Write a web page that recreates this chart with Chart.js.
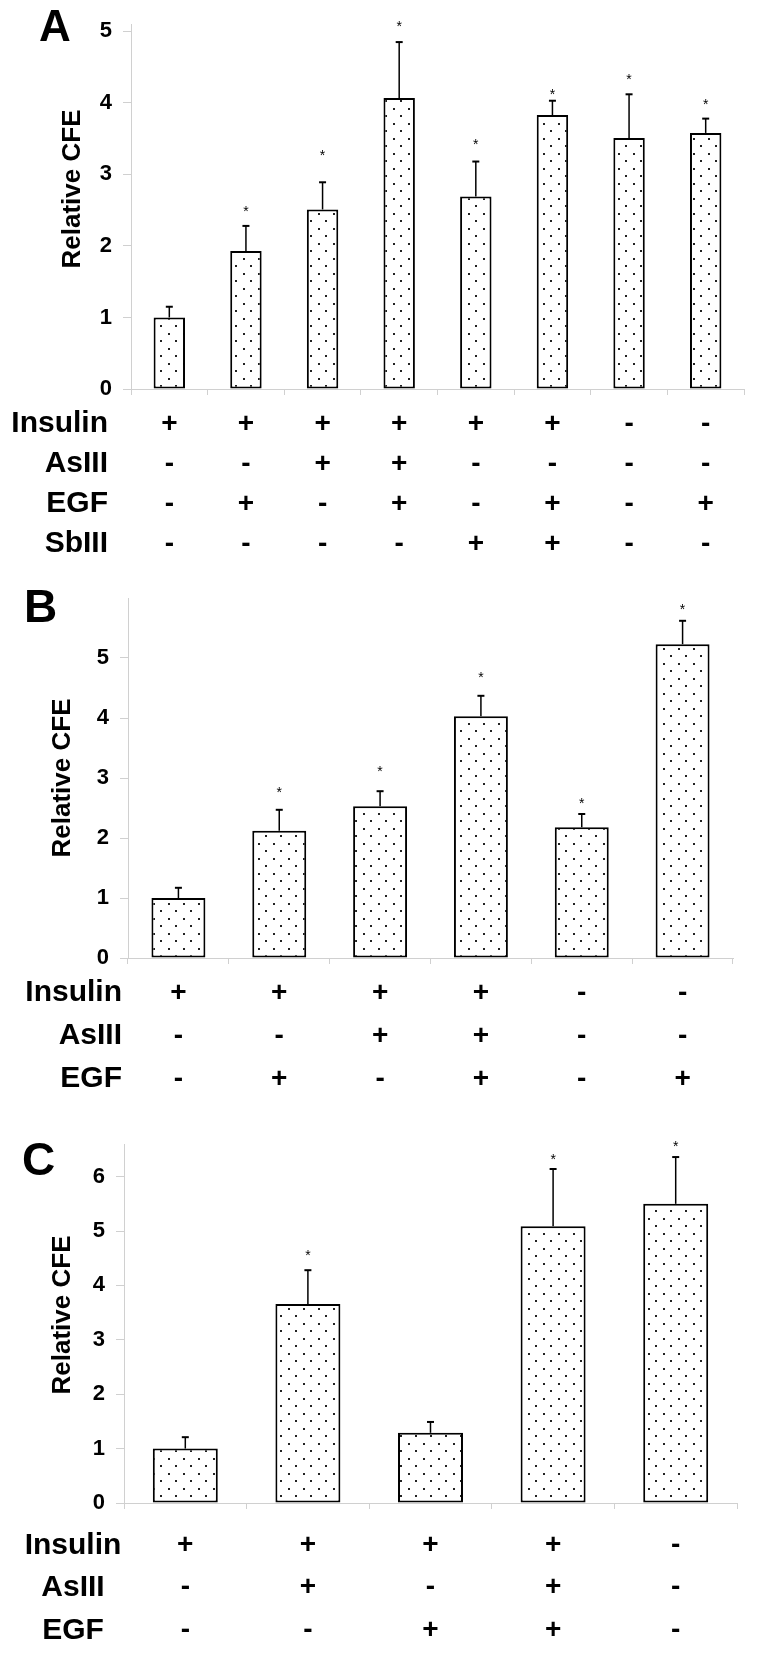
<!DOCTYPE html>
<html><head><meta charset="utf-8">
<script src="https://cdn.jsdelivr.net/npm/chart.js@4.4.1/dist/chart.umd.min.js"></script>
<style>
html,body{margin:0;padding:0;background:#fff;}
body{width:759px;height:1654px;position:relative;overflow:hidden;}
canvas{position:absolute;left:0;}
</style></head><body>
<canvas id="cA" width="759" height="570" style="top:0px"></canvas>
<canvas id="cB" width="759" height="540" style="top:570px"></canvas>
<canvas id="cC" width="759" height="544" style="top:1110px"></canvas>
<script>
// ---------- Panel A ----------
const rowNamesA = ['Insulin', 'AsIII', 'EGF', 'SbIII'];
const insulinA = ['+', '+', '+', '+', '+', '+', '-', '-'];
const asIIIA   = ['-', '-', '+', '+', '-', '-', '-', '-'];
const egfA     = ['-', '+', '-', '+', '-', '+', '-', '+'];
const sbIIIA   = ['-', '-', '-', '-', '+', '+', '-', '-'];
const valuesA  = [1.00, 1.93, 2.51, 4.07, 2.69, 3.83, 3.51, 3.58];
const errorsA  = [0.15, 0.35, 0.38, 0.78, 0.49, 0.20, 0.61, 0.20];
const starsA   = [null, 2.53, 3.31, 5.11, 3.47, 4.17, 4.38, 4.03];
const yTicksA  = [0, 1, 2, 3, 4, 5];

// ---------- Panel B ----------
const rowNamesB = ['Insulin', 'AsIII', 'EGF'];
const insulinB = ['+', '+', '+', '+', '-', '-'];
const asIIIB   = ['-', '-', '+', '+', '-', '-'];
const egfB     = ['-', '+', '-', '+', '-', '+'];
const valuesB  = [1.00, 2.12, 2.53, 4.03, 2.18, 5.23];
const errorsB  = [0.17, 0.35, 0.25, 0.34, 0.22, 0.39];
const starsB   = [null, 2.82, 3.17, 4.73, 2.63, 5.87];
const yTicksB  = [0, 1, 2, 3, 4, 5];

// ---------- Panel C ----------
const rowNamesC = ['Insulin', 'AsIII', 'EGF'];
const insulinC = ['+', '+', '+', '+', '-'];
const asIIIC   = ['-', '+', '-', '+', '-'];
const egfC     = ['-', '-', '+', '+', '-'];
const valuesC  = [1.00, 3.66, 1.29, 5.09, 5.50];
const errorsC  = [0.21, 0.62, 0.20, 1.05, 0.86];
const starsC   = [null, 4.62, null, 6.38, 6.62];
const yTicksC  = [0, 1, 2, 3, 4, 5, 6];

const FONT = '"Liberation Sans", Arial, Helvetica, sans-serif';
const AXIS_GRAY = '#d0d0d0';

function makePattern() {
  const c = document.createElement('canvas');
  c.width = 15; c.height = 15;
  const g = c.getContext('2d');
  g.fillStyle = '#fff'; g.fillRect(0, 0, 15, 15);
  g.fillStyle = '#222';
  g.fillRect(3, 3, 2, 2);
  g.fillRect(10, 10, 2, 2);
  return g.createPattern(c, 'repeat');
}

const decoPlugin = {
  id: 'deco',
  afterDatasetsDraw(chart, args, o) {
    const ctx = chart.ctx;
    const ys = chart.scales.y;
    const meta = chart.getDatasetMeta(0);
    ctx.save();
    ctx.strokeStyle = '#000';
    ctx.fillStyle = '#000';
    meta.data.forEach((bar, i) => {
      const x = bar.x;
      const yb = ys.getPixelForValue(o.values[i]);
      const ye = ys.getPixelForValue(o.values[i] + o.errors[i]);
      ctx.lineWidth = 1.5;
      ctx.beginPath(); ctx.moveTo(x, yb); ctx.lineTo(x, ye); ctx.stroke();
      ctx.lineWidth = 2;
      ctx.beginPath(); ctx.moveTo(x - 3.5, ye); ctx.lineTo(x + 3.5, ye); ctx.stroke();
      if (o.stars[i] != null) {
        ctx.font = '14px ' + FONT;
        ctx.textAlign = 'center';
        ctx.textBaseline = 'alphabetic';
        ctx.fillText('*', x, ys.getPixelForValue(o.stars[i]) + 8);
      }
    });
    ctx.restore();
  },
  afterDraw(chart, args, o) {
    const ctx = chart.ctx;
    const xs = chart.scales.x;
    ctx.save();
    ctx.fillStyle = '#000';
    // panel letter
    ctx.font = 'bold ' + o.letterSize + 'px ' + FONT;
    ctx.textAlign = 'left';
    ctx.textBaseline = 'alphabetic';
    ctx.fillText(o.letter, o.letterX, o.letterY);
    // y-axis title
    ctx.save();
    ctx.translate(o.titleX, o.titleY);
    ctx.rotate(-Math.PI / 2);
    ctx.font = 'bold 26px ' + FONT;
    ctx.textAlign = 'center';
    ctx.textBaseline = 'middle';
    ctx.fillText(o.title, 0, 0);
    ctx.restore();
    // row labels of the treatment table
    ctx.font = 'bold 30px ' + FONT;
    ctx.textAlign = o.rowAlign;
    ctx.textBaseline = 'middle';
    o.rows.forEach((name, i) => {
      ctx.fillText(name, o.rowX, xs.top + o.tickLen + o.pad + o.lh * (i + 0.5));
    });
    ctx.restore();
  }
};

function makePanel(id, p) {
  const labels = p.conds[0].map((_, i) => p.conds.map(r => r[i]));
  const lhRatio = p.lh / 28;
  new Chart(document.getElementById(id), {
    type: 'bar',
    data: {
      labels: labels,
      datasets: [{
        data: p.values,
        backgroundColor: makePattern(),
        borderColor: '#000',
        borderWidth: 2,
        borderSkipped: false,
        categoryPercentage: 1,
        barPercentage: p.barPct
      }]
    },
    options: {
      responsive: false,
      animation: false,
      devicePixelRatio: 1,
      events: [],
      layout: { padding: { left: 0, right: p.padRight, top: p.padTop, bottom: 0 } },
      plugins: {
        legend: { display: false },
        tooltip: { enabled: false },
        deco: {
          values: p.values, errors: p.errors, stars: p.stars,
          letter: p.letter, letterX: p.letterX, letterY: p.letterY, letterSize: p.letterSize,
          title: 'Relative CFE', titleX: p.titleX, titleY: p.titleY,
          rows: p.rows, rowAlign: p.rowAlign, rowX: p.rowX,
          tickLen: 6, pad: p.xPad, lh: p.lh
        }
      },
      scales: {
        x: {
          offset: true,
          grid: { display: true, drawOnChartArea: false, drawTicks: true, tickLength: 6, color: AXIS_GRAY, offset: true },
          border: { display: true, color: AXIS_GRAY, width: 1 },
          ticks: {
            autoSkip: false, maxRotation: 0, minRotation: 0,
            padding: p.xPad, color: '#000',
            font: { family: FONT, size: 28, weight: 'bold', lineHeight: lhRatio }
          },
          afterFit: (s) => { s.height = p.xHeight; }
        },
        y: {
          min: 0, max: p.yMax,
          grid: { display: true, drawOnChartArea: false, drawTicks: true, tickLength: 8, color: AXIS_GRAY },
          border: { display: true, color: AXIS_GRAY, width: 1 },
          ticks: {
            padding: 11, color: '#000',
            font: { family: FONT, size: 22, weight: 'bold' }
          },
          afterBuildTicks: (s) => { s.ticks = p.yTicks.map(v => ({ value: v })); },
          afterFit: (s) => { s.width = p.yWidth; }
        }
      }
    },
    plugins: [decoPlugin]
  });
}

makePanel('cA', {
  conds: [insulinA, asIIIA, egfA, sbIIIA], rows: rowNamesA,
  values: valuesA, errors: errorsA, stars: starsA, yTicks: yTicksA, yMax: 5.1,
  barPct: 0.41, padRight: 15, padTop: 20, yWidth: 131, xHeight: 181,
  xPad: 9, lh: 40, rowAlign: 'right', rowX: 108,
  letter: 'A', letterX: 39, letterY: 41, letterSize: 44,
  titleX: 73, titleY: 189
});
makePanel('cB', {
  conds: [insulinB, asIIIB, egfB], rows: rowNamesB,
  values: valuesB, errors: errorsB, stars: starsB, yTicks: yTicksB, yMax: 6,
  barPct: 0.535, padRight: 26, padTop: 28, yWidth: 128, xHeight: 152,
  xPad: 7.5, lh: 43, rowAlign: 'right', rowX: 122,
  letter: 'B', letterX: 24, letterY: 52, letterSize: 46,
  titleX: 63, titleY: 208
});
makePanel('cC', {
  conds: [insulinC, asIIIC, egfC], rows: rowNamesC,
  values: valuesC, errors: errorsC, stars: starsC, yTicks: yTicksC, yMax: 6.6,
  barPct: 0.53, padRight: 22, padTop: 34, yWidth: 124, xHeight: 151,
  xPad: 15, lh: 42.5, rowAlign: 'center', rowX: 73,
  letter: 'C', letterX: 22, letterY: 65, letterSize: 46,
  titleX: 63, titleY: 205
});
</script>
</body></html>
